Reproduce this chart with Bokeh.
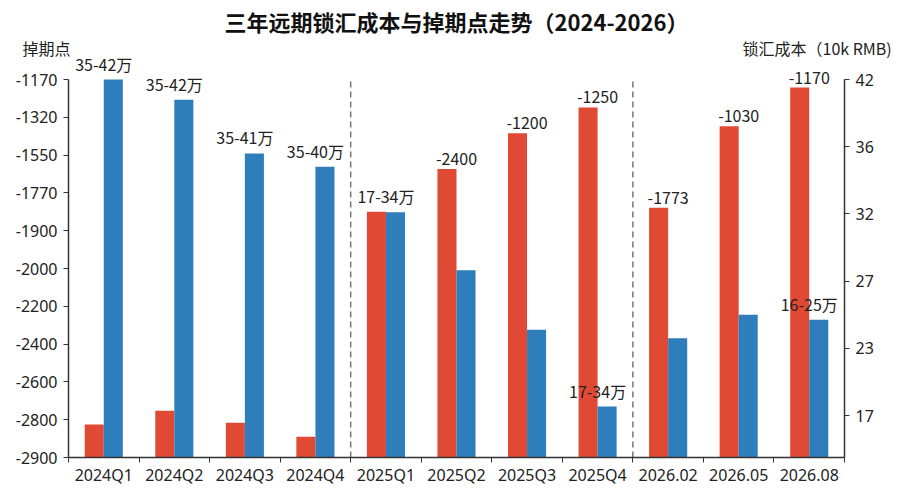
import numpy as np
from bokeh.core.properties import value
from bokeh.embed import file_html
from bokeh.models import ColumnDataSource, FixedTicker, LinearAxis, Range1d, Title
from bokeh.plotting import figure
from bokeh.resources import INLINE

# categories on the x axis
periods = ['2024Q1', '2024Q2', '2024Q3', '2024Q4', '2025Q1', '2025Q2',
           '2025Q3', '2025Q4', '2026.02', '2026.05', '2026.08']

# left axis: swap points (labels are evenly spaced in the original chart)
swap_ticks = [-2900, -2800, -2600, -2400, -2200, -2000, -1900, -1770, -1550, -1320, -1170]
# right axis: hedging cost, 10k RMB
cost_ticks = [17, 23, 27, 32, 36, 42]

# bar heights (red = swap points, blue = hedging cost)
swap_points = [-2813, -2753, -2808, -2845, -1835, -1631, -1417, -1281, -1821, -1374, -1202]
hedge_cost = [42.0, 40.2, 35.6, 34.8, 32.1, 27.8, 24.1, 17.8, 23.6, 25.0, 24.7]

# annotations printed above bars
swap_labels = ['', '', '', '', '', '-2400', '-1200', '-1250', '-1773', '-1030', '-1170']
cost_labels = ['35-42万', '35-42万', '35-41万', '35-40万', '17-34万', '', '', '17-34万', '', '', '16-25万']

# dashed separators go before these categories
breaks = ['2025Q1', '2026.02']

title_text = "三年远期锁汇成本与掉期点走势（2024-2026）"
left_title = "掉期点"
right_title = "锁汇成本（10k RMB)"

FONT = "Noto Sans CJK SC"
NUM_FONT = "Noto Sans"
RED = "#E04A35"
BLUE = "#2E7EBB"
INK = "#222222"

# the axes are not linear in value, so every value goes to its tick slot
swap_slots = list(range(len(swap_ticks)))
cost_slots = list(range(len(cost_ticks)))
swap_pos = np.interp(swap_points, swap_ticks, swap_slots)
cost_pos = np.interp(hedge_cost, cost_ticks, cost_slots)

n = len(periods)
centers = [i + 0.5 for i in range(n)]
bar_w = 0.27

# pixel layout: frame from 56px down to 457px, axis tops sit at 79px
frame_top, top_px, bottom_px = 56, 79, 457
left_step = (bottom_px - top_px) / swap_slots[-1]
right_step = (bottom_px - top_px - 42) / cost_slots[-1]
right_lo = -42 / right_step

p = figure(width=900, height=488, output_backend="svg", toolbar_location=None,
           x_range=Range1d(0, n),
           y_range=Range1d(0, swap_slots[-1] + (top_px - frame_top) / left_step),
           min_border_left=68, min_border_right=56, min_border_top=frame_top,
           min_border_bottom=488 - bottom_px)
p.title = None
p.extra_y_ranges = {"right": Range1d(right_lo, cost_slots[-1] + (top_px - frame_top) / right_step)}
p.outline_line_color = None
p.grid.visible = False

src = ColumnDataSource(dict(
    red_x=[c - bar_w / 2 for c in centers],
    blue_x=[c + bar_w / 2 for c in centers],
    center=centers,
    red_top=swap_pos,
    blue_top=cost_pos,
    red_lab=swap_labels,
    blue_lab=cost_labels,
))

p.vbar(x="red_x", top="red_top", bottom=0, width=bar_w, source=src,
       fill_color=RED, line_color=None)
p.vbar(x="blue_x", top="blue_top", bottom=right_lo, width=bar_w, source=src,
       fill_color=BLUE, line_color=None, y_range_name="right")

lab_style = dict(text_font=value(FONT), text_font_size="16px", text_color=INK,
                 text_align="center", text_baseline="bottom", y_offset=-4)
p.text(x="center", y="red_top", text="red_lab", source=src, **lab_style)
p.text(x="center", y="blue_top", text="blue_lab", source=src, y_range_name="right", **lab_style)

bx = [periods.index(b) for b in breaks]
p.segment(x0=bx, x1=bx, y0=0, y1=swap_slots[-1], line_color="#777777",
          line_width=1.5, line_dash="6 4")

# axes
def style_axis(ax):
    ax.axis_line_color = "#333333"
    ax.axis_line_width = 1.5
    ax.major_tick_line_color = "#333333"
    ax.minor_tick_line_color = "#333333"
    ax.major_label_text_font = NUM_FONT
    ax.major_label_text_font_size = "16px"
    ax.major_label_text_color = INK

xa = p.xaxis[0]
xa.ticker = FixedTicker(ticks=centers, minor_ticks=list(range(n + 1)))
xa.major_label_overrides = {c: lab for c, lab in zip(centers, periods)}
style_axis(xa)
xa.major_tick_in = 0
xa.major_tick_out = 0
xa.minor_tick_in = 0
xa.minor_tick_out = 5
xa.major_label_standoff = 1

ya = p.yaxis[0]
ya.ticker = FixedTicker(ticks=swap_slots)
ya.bounds = (0, swap_slots[-1])
ya.major_label_overrides = {s: str(t) for s, t in zip(swap_slots, swap_ticks)}
style_axis(ya)
ya.major_tick_in = 0
ya.major_tick_out = 5
ya.major_label_standoff = 6

ra = LinearAxis(y_range_name="right")
ra.ticker = FixedTicker(ticks=cost_slots)
ra.bounds = (right_lo, cost_slots[-1])
ra.major_label_overrides = {s: str(t) for s, t in zip(cost_slots, cost_ticks)}
style_axis(ra)
ra.major_tick_in = 0
ra.major_tick_out = 5
ra.major_label_standoff = 6
p.add_layout(ra, "right")

# titles: the two axis captions share one row right above the frame
gap = "\u3000" * 42
p.add_layout(Title(text=left_title + gap + right_title, align="left", offset=-46,
                   standoff=-6, text_font=FONT, text_font_size="16px",
                   text_font_style="normal", text_color=INK), "above")
p.add_layout(Title(text=title_text, align="center", standoff=0,
                   text_font=FONT, text_font_size="22px", text_font_style="bold",
                   text_color="#111111"), "above")

open("out.html", "w").write(file_html(p, INLINE))
